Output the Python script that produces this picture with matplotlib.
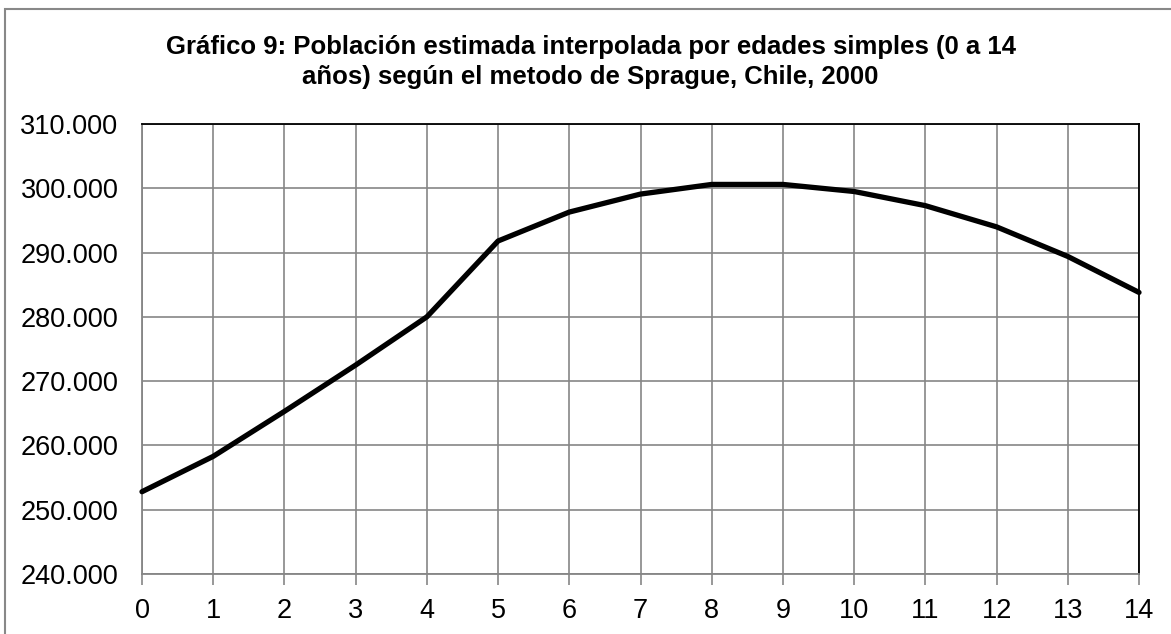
import matplotlib
matplotlib.use("Agg")
import matplotlib.pyplot as plt
from matplotlib.ticker import FuncFormatter
from matplotlib.patches import Rectangle

plt.rcParams['font.family'] = ['Liberation Sans', 'DejaVu Sans']

edades = list(range(0, 15))
poblacion = [252800, 258300, 265300, 272500, 280000, 291800, 296300, 299100,
             300600, 300600, 299500, 297300, 294000, 289400, 283800]
titulo = ("Gráfico 9: Población estimada interpolada por edades simples (0 a 14\n"
          "años) según el metodo de Sprague, Chile, 2000")

W, H = 1171, 634
fig = plt.figure(figsize=(W / 100, H / 100), dpi=100)

# plot area in pixels: left 142, right 1139, top 124, bottom 574
ax = fig.add_axes([142 / W, 1 - 574 / H, (1139 - 142) / W, (574 - 124) / H])

ax.plot(edades, poblacion, color='black', linewidth=3.8, solid_joinstyle='round',
        solid_capstyle='round', zorder=3, clip_on=False)

ax.set_xlim(0, 14)
ax.set_ylim(240000, 310000)
ax.set_xticks(edades)
ax.set_yticks(range(240000, 310001, 10000))
ax.yaxis.set_major_formatter(FuncFormatter(lambda v, p: f"{int(v):,}".replace(",", ".")))

ax.grid(True, color='#868686', linewidth=1.2)
ax.set_axisbelow(True)

for s in ['top', 'right']:
    ax.spines[s].set_color('black')
    ax.spines[s].set_linewidth(1.3)
for s in ['left', 'bottom']:
    ax.spines[s].set_color('#868686')
    ax.spines[s].set_linewidth(1.3)

ax.tick_params(axis='x', length=8, width=1.2, color='#868686', pad=9,
               labelsize=19.5, direction='out')
ax.tick_params(axis='y', length=0, pad=17, labelsize=19.5)

fig.text(0.5 + 5 / W, 1 - 62 / H, titulo, ha='center', va='center', fontsize=18.5,
         fontweight='bold', linespacing=1.3)

# outer chart border (only left and top visible in the picture)
fig.add_artist(Rectangle((4.5 / W, -0.1), 1.2, 1 - 8.5 / H + 0.1,
                         transform=fig.transFigure, fill=False,
                         edgecolor='#888888', linewidth=1.5))

fig.savefig("out.png", dpi=100)
